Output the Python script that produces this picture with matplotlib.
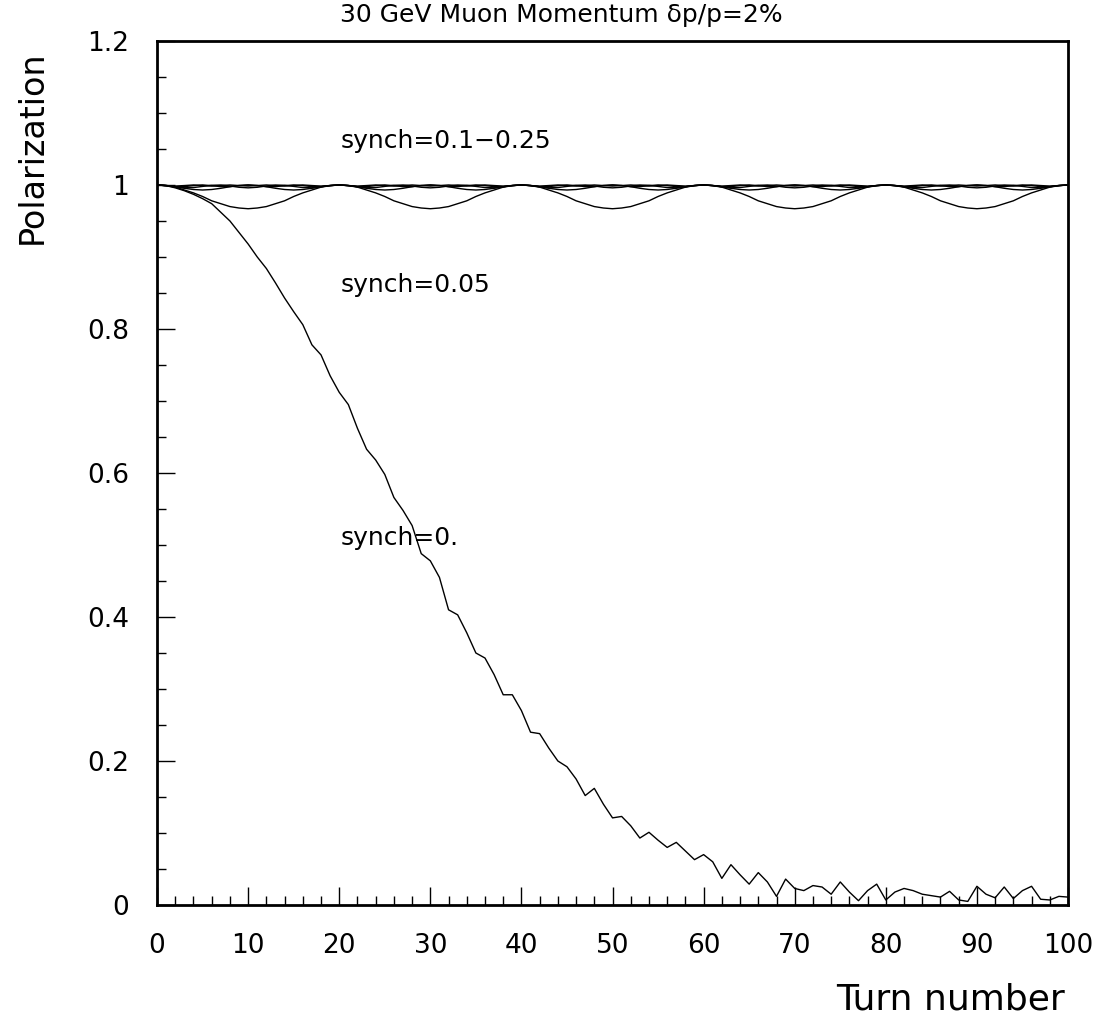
import matplotlib
matplotlib.use("Agg")
import matplotlib.pyplot as plt
from matplotlib.ticker import MultipleLocator

plt.rcParams['font.family'] = ['DejaVu Sans']

# Turn numbers shared by every curve
turns = list(range(0, 101))

# Polarization without synchrotron motion (synch = 0.)
pol_synch_0 = [
    1.000, 0.999, 0.996, 0.992, 0.987, 0.981, 0.974, 0.962, 0.950, 0.934,
    0.918, 0.900, 0.884, 0.864, 0.843, 0.824, 0.806, 0.778, 0.764, 0.735,
    0.712, 0.695, 0.662, 0.633, 0.618, 0.598, 0.566, 0.548, 0.527, 0.488,
    0.478, 0.455, 0.410, 0.403, 0.378, 0.350, 0.343, 0.320, 0.292, 0.292,
    0.270, 0.240, 0.238, 0.218, 0.200, 0.192, 0.175, 0.152, 0.162, 0.140,
    0.121, 0.123, 0.110, 0.093, 0.101, 0.090, 0.080, 0.087, 0.075, 0.063,
    0.070, 0.060, 0.037, 0.056, 0.042, 0.029, 0.045, 0.032, 0.012, 0.036,
    0.023, 0.020, 0.027, 0.025, 0.015, 0.032, 0.018, 0.006, 0.020, 0.029,
    0.007, 0.018, 0.023, 0.020, 0.015, 0.013, 0.011, 0.019, 0.007, 0.005,
    0.026, 0.015, 0.010, 0.025, 0.009, 0.020, 0.026, 0.008, 0.007, 0.012,
    0.011,
]

# synch = 0.05
pol_synch_005 = [
    1.000, 0.999, 0.997, 0.993, 0.989, 0.984, 0.978, 0.974, 0.970, 0.968,
    0.967, 0.968, 0.970, 0.974, 0.978, 0.984, 0.989, 0.993, 0.997, 0.999,
    1.000, 0.999, 0.997, 0.993, 0.989, 0.984, 0.978, 0.974, 0.970, 0.968,
    0.967, 0.968, 0.970, 0.974, 0.978, 0.984, 0.989, 0.993, 0.997, 0.999,
    1.000, 0.999, 0.997, 0.993, 0.989, 0.984, 0.978, 0.974, 0.970, 0.968,
    0.967, 0.968, 0.970, 0.974, 0.978, 0.984, 0.989, 0.993, 0.997, 0.999,
    1.000, 0.999, 0.997, 0.993, 0.989, 0.984, 0.978, 0.974, 0.970, 0.968,
    0.967, 0.968, 0.970, 0.974, 0.978, 0.984, 0.989, 0.993, 0.997, 0.999,
    1.000, 0.999, 0.997, 0.993, 0.989, 0.984, 0.978, 0.974, 0.970, 0.968,
    0.967, 0.968, 0.970, 0.974, 0.978, 0.984, 0.989, 0.993, 0.997, 0.999,
    1.000,
]

# synch = 0.1
pol_synch_010 = [
    1.0000, 0.9993, 0.9976, 0.9954, 0.9937, 0.9930, 0.9937, 0.9954, 0.9976, 0.9993,
    1.0000, 0.9993, 0.9976, 0.9954, 0.9937, 0.9930, 0.9937, 0.9954, 0.9976, 0.9993,
    1.0000, 0.9993, 0.9976, 0.9954, 0.9937, 0.9930, 0.9937, 0.9954, 0.9976, 0.9993,
    1.0000, 0.9993, 0.9976, 0.9954, 0.9937, 0.9930, 0.9937, 0.9954, 0.9976, 0.9993,
    1.0000, 0.9993, 0.9976, 0.9954, 0.9937, 0.9930, 0.9937, 0.9954, 0.9976, 0.9993,
    1.0000, 0.9993, 0.9976, 0.9954, 0.9937, 0.9930, 0.9937, 0.9954, 0.9976, 0.9993,
    1.0000, 0.9993, 0.9976, 0.9954, 0.9937, 0.9930, 0.9937, 0.9954, 0.9976, 0.9993,
    1.0000, 0.9993, 0.9976, 0.9954, 0.9937, 0.9930, 0.9937, 0.9954, 0.9976, 0.9993,
    1.0000, 0.9993, 0.9976, 0.9954, 0.9937, 0.9930, 0.9937, 0.9954, 0.9976, 0.9993,
    1.0000, 0.9993, 0.9976, 0.9954, 0.9937, 0.9930, 0.9937, 0.9954, 0.9976, 0.9993,
    1.0000,
]

# synch = 0.15
pol_synch_015 = [
    1.0000, 0.9992, 0.9974, 0.9961, 0.9964, 0.9980, 0.9996, 0.9999, 0.9986, 0.9968,
    0.9960, 0.9968, 0.9986, 0.9999, 0.9996, 0.9980, 0.9964, 0.9961, 0.9974, 0.9992,
    1.0000, 0.9992, 0.9974, 0.9961, 0.9964, 0.9980, 0.9996, 0.9999, 0.9986, 0.9968,
    0.9960, 0.9968, 0.9986, 0.9999, 0.9996, 0.9980, 0.9964, 0.9961, 0.9974, 0.9992,
    1.0000, 0.9992, 0.9974, 0.9961, 0.9964, 0.9980, 0.9996, 0.9999, 0.9986, 0.9968,
    0.9960, 0.9968, 0.9986, 0.9999, 0.9996, 0.9980, 0.9964, 0.9961, 0.9974, 0.9992,
    1.0000, 0.9992, 0.9974, 0.9961, 0.9964, 0.9980, 0.9996, 0.9999, 0.9986, 0.9968,
    0.9960, 0.9968, 0.9986, 0.9999, 0.9996, 0.9980, 0.9964, 0.9961, 0.9974, 0.9992,
    1.0000, 0.9992, 0.9974, 0.9961, 0.9964, 0.9980, 0.9996, 0.9999, 0.9986, 0.9968,
    0.9960, 0.9968, 0.9986, 0.9999, 0.9996, 0.9980, 0.9964, 0.9961, 0.9974, 0.9992,
    1.0000,
]

# synch = 0.2
pol_synch_020 = [
    1.0000, 0.9991, 0.9977, 0.9977, 0.9991, 1.0000, 0.9991, 0.9977, 0.9977, 0.9991,
    1.0000, 0.9991, 0.9977, 0.9977, 0.9991, 1.0000, 0.9991, 0.9977, 0.9977, 0.9991,
    1.0000, 0.9991, 0.9977, 0.9977, 0.9991, 1.0000, 0.9991, 0.9977, 0.9977, 0.9991,
    1.0000, 0.9991, 0.9977, 0.9977, 0.9991, 1.0000, 0.9991, 0.9977, 0.9977, 0.9991,
    1.0000, 0.9991, 0.9977, 0.9977, 0.9991, 1.0000, 0.9991, 0.9977, 0.9977, 0.9991,
    1.0000, 0.9991, 0.9977, 0.9977, 0.9991, 1.0000, 0.9991, 0.9977, 0.9977, 0.9991,
    1.0000, 0.9991, 0.9977, 0.9977, 0.9991, 1.0000, 0.9991, 0.9977, 0.9977, 0.9991,
    1.0000, 0.9991, 0.9977, 0.9977, 0.9991, 1.0000, 0.9991, 0.9977, 0.9977, 0.9991,
    1.0000, 0.9991, 0.9977, 0.9977, 0.9991, 1.0000, 0.9991, 0.9977, 0.9977, 0.9991,
    1.0000, 0.9991, 0.9977, 0.9977, 0.9991, 1.0000, 0.9991, 0.9977, 0.9977, 0.9991,
    1.0000,
]

# synch = 0.25
pol_synch_025 = [
    1.0000, 0.9992, 0.9985, 0.9992, 1.0000, 0.9992, 0.9985, 0.9992, 1.0000, 0.9992,
    0.9985, 0.9992, 1.0000, 0.9992, 0.9985, 0.9992, 1.0000, 0.9992, 0.9985, 0.9992,
    1.0000, 0.9992, 0.9985, 0.9992, 1.0000, 0.9992, 0.9985, 0.9992, 1.0000, 0.9992,
    0.9985, 0.9992, 1.0000, 0.9992, 0.9985, 0.9992, 1.0000, 0.9992, 0.9985, 0.9992,
    1.0000, 0.9992, 0.9985, 0.9992, 1.0000, 0.9992, 0.9985, 0.9992, 1.0000, 0.9992,
    0.9985, 0.9992, 1.0000, 0.9992, 0.9985, 0.9992, 1.0000, 0.9992, 0.9985, 0.9992,
    1.0000, 0.9992, 0.9985, 0.9992, 1.0000, 0.9992, 0.9985, 0.9992, 1.0000, 0.9992,
    0.9985, 0.9992, 1.0000, 0.9992, 0.9985, 0.9992, 1.0000, 0.9992, 0.9985, 0.9992,
    1.0000, 0.9992, 0.9985, 0.9992, 1.0000, 0.9992, 0.9985, 0.9992, 1.0000, 0.9992,
    0.9985, 0.9992, 1.0000, 0.9992, 0.9985, 0.9992, 1.0000, 0.9992, 0.9985, 0.9992,
    1.0000,
]

curves = [pol_synch_025, pol_synch_020, pol_synch_015, pol_synch_010,
          pol_synch_005, pol_synch_0]

x_ticks = [0, 10, 20, 30, 40, 50, 60, 70, 80, 90, 100]
y_ticks = [0, 0.2, 0.4, 0.6, 0.8, 1, 1.2]
y_tick_labels = ["0", "0.2", "0.4", "0.6", "0.8", "1", "1.2"]

title = "30 GeV Muon Momentum \u03b4p/p=2%"
annotations = [
    ("synch=0.1\u22120.25", 20.1, 1.061),
    ("synch=0.05", 20.1, 0.861),
    ("synch=0.", 20.1, 0.510),
]

fig = plt.figure(figsize=(10.99, 10.24), dpi=100)
ax = fig.add_axes([0.1429, 0.1162, 0.8289, 0.8438])

for vals in curves:
    ax.plot(turns, vals, color="black", linewidth=1.0, solid_joinstyle="round")

ax.set_xlim(0, 100)
ax.set_ylim(0, 1.2)

ax.set_xticks(x_ticks)
ax.set_xticklabels([str(v) for v in x_ticks])
ax.set_yticks(y_ticks)
ax.set_yticklabels(y_tick_labels)
ax.xaxis.set_minor_locator(MultipleLocator(2))
ax.yaxis.set_minor_locator(MultipleLocator(0.05))

ax.tick_params(which="both", direction="in", top=False, right=False,
               labelsize=19, color="black")
ax.tick_params(which="major", length=13, width=1.0, pad=20)
ax.tick_params(which="minor", length=6.5, width=1.0)

for sp in ax.spines.values():
    sp.set_linewidth(2.0)
    sp.set_color("black")

for text, xv, yv in annotations:
    ax.text(xv, yv, text, fontsize=18, ha="left", va="center")

fig.text(0.511, 0.985, title, fontsize=18, ha="center", va="center")
fig.text(0.969, 0.024, "Turn number", fontsize=26, ha="right", va="center")
fig.text(0.029, 0.856, "Polarization", fontsize=24, ha="center", va="center",
         rotation=90)

fig.savefig("out.png", dpi=100)
